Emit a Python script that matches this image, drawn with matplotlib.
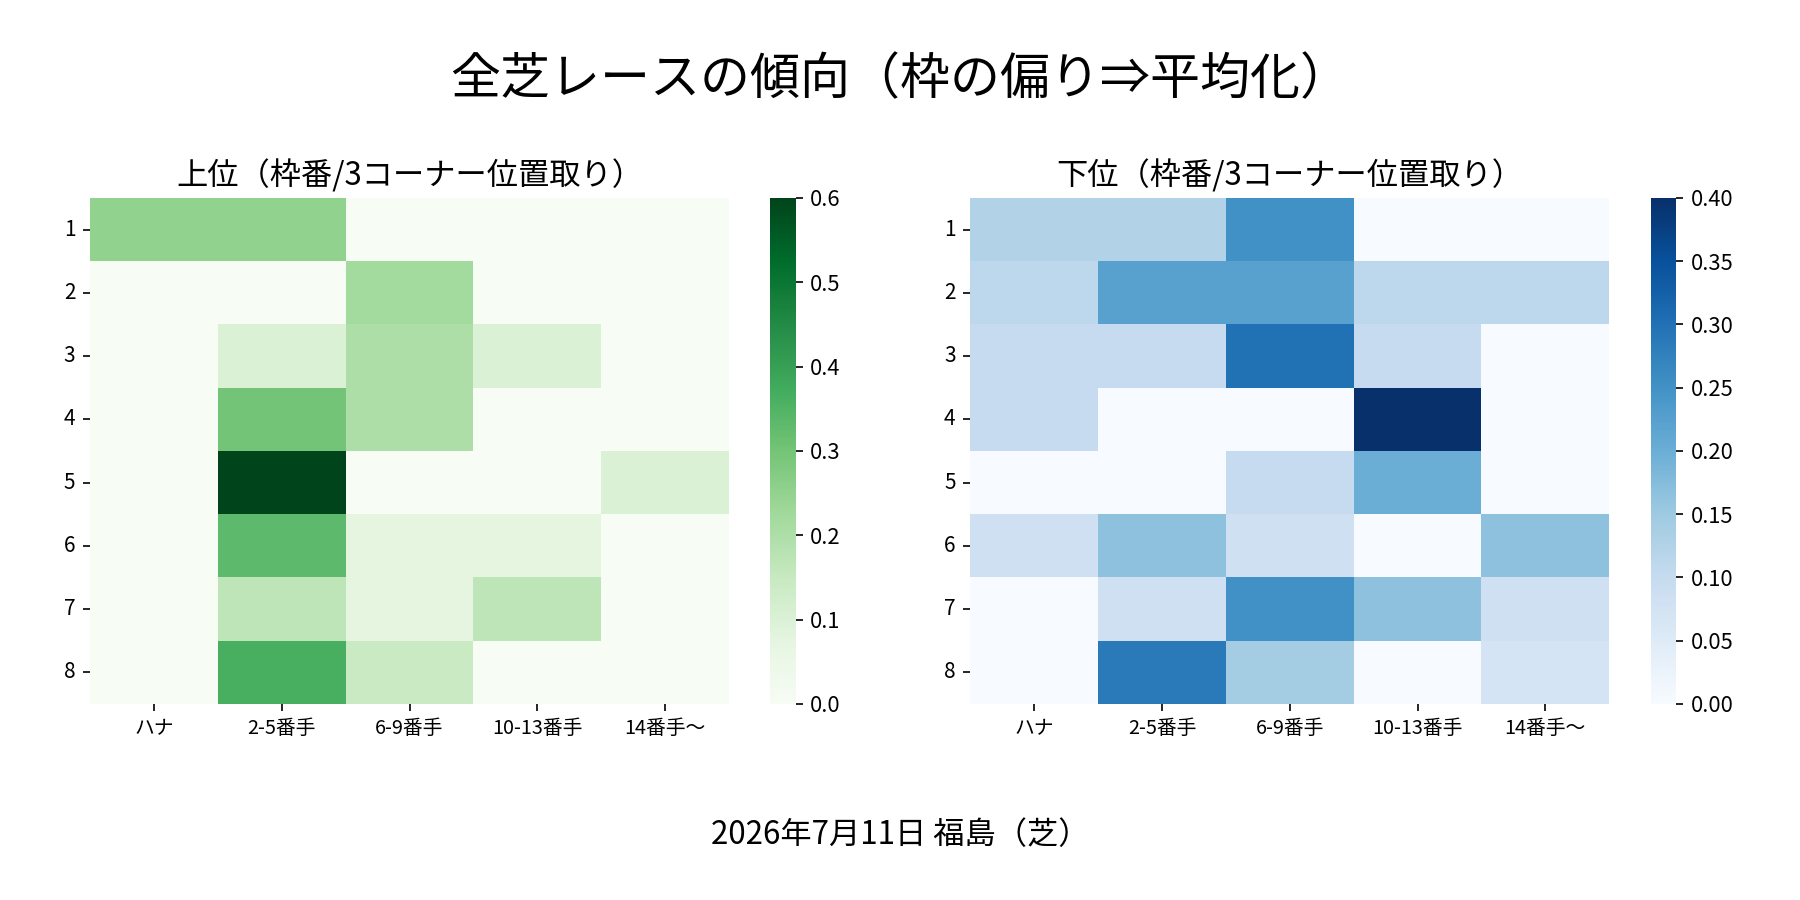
import numpy as np
import pandas as pd
import seaborn as sns
import matplotlib
matplotlib.use("Agg")
import matplotlib.pyplot as plt

plt.rcParams['font.family'] = ['Noto Sans CJK JP', 'DejaVu Sans']

# 枠番 x 3コーナー位置取り
waku = [1, 2, 3, 4, 5, 6, 7, 8]
ichi = ["ハナ", "2-5番手", "6-9番手", "10-13番手", "14番手〜"]

joui = [
    [0.25, 0.25, 0.0, 0.0, 0.0],
    [0.0, 0.0, 0.222, 0.0, 0.0],
    [0.0, 0.1, 0.2, 0.1, 0.0],
    [0.0, 0.3, 0.2, 0.0, 0.0],
    [0.0, 0.6, 0.0, 0.0, 0.1],
    [0.0, 0.333, 0.077, 0.077, 0.0],
    [0.0, 0.167, 0.077, 0.167, 0.0],
    [0.0, 0.364, 0.143, 0.0, 0.0],
]

kai = [
    [0.125, 0.125, 0.25, 0.0, 0.0],
    [0.111, 0.222, 0.222, 0.111, 0.111],
    [0.1, 0.1, 0.3, 0.1, 0.0],
    [0.1, 0.0, 0.0, 0.4, 0.0],
    [0.0, 0.0, 0.1, 0.2, 0.0],
    [0.083, 0.167, 0.083, 0.0, 0.167],
    [0.0, 0.083, 0.25, 0.167, 0.083],
    [0.0, 0.286, 0.143, 0.0, 0.071],
]

df_joui = pd.DataFrame(joui, index=waku, columns=ichi)
df_kai = pd.DataFrame(kai, index=waku, columns=ichi)

fig = plt.figure(figsize=(12, 6), dpi=150)
ax1 = fig.add_axes([0.05, 0.218, 0.355, 0.562])
cax1 = fig.add_axes([0.428, 0.218, 0.014, 0.562])
ax2 = fig.add_axes([0.539, 0.218, 0.355, 0.562])
cax2 = fig.add_axes([0.917, 0.218, 0.014, 0.562])

sns.heatmap(df_joui, ax=ax1, cbar_ax=cax1, cmap="Greens", vmin=0, vmax=0.6)
sns.heatmap(df_kai, ax=ax2, cbar_ax=cax2, cmap="Blues", vmin=0, vmax=0.4)

for ax, title in [(ax1, "上位（枠番/3コーナー位置取り）"), (ax2, "下位（枠番/3コーナー位置取り）")]:
    ax.set_title(title, fontsize=15)
    ax.tick_params(axis='y', rotation=0, labelsize=10)
    ax.tick_params(axis='x', rotation=0, labelsize=9.5)

cax1.tick_params(labelsize=10.5)
cax2.tick_params(labelsize=10.5)

fig.suptitle("全芝レースの傾向（枠の偏り⇒平均化）", fontsize=24, y=0.94)
fig.text(0.5, 0.062, "2026年7月11日 福島（芝）", ha='center', fontsize=15)

plt.savefig("out.png")
